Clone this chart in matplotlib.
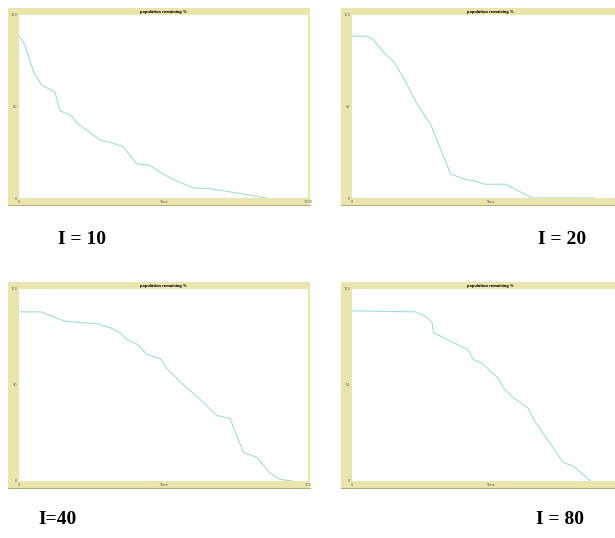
import matplotlib.pyplot as plt
import numpy as np

# remaining % over time, one run per I value
t_10 = [0, 21, 50, 78, 124, 142, 182, 200, 280, 326, 360, 407, 453, 499, 545, 603, 660, 718, 787, 856]
v_10 = [88.8, 83.2, 69.2, 61.7, 57.9, 47.7, 44.9, 41.1, 31.8, 29.9, 28.0, 18.7, 17.8, 13.1, 9.3, 5.6, 5.0, 3.7, 1.9, 0]

t_20 = [0, 20, 30, 44, 62, 79, 94, 114, 128, 143, 163, 178, 192, 222, 262, 351]
v_20 = [88.4, 88.4, 86.9, 80.4, 73.8, 62.6, 51.4, 40.2, 27.1, 13.1, 10.3, 9.3, 7.5, 7.5, 0, 0]

t_40 = [0, 23, 33, 47, 64, 81, 95, 105, 112, 123, 133, 147, 153, 171, 188, 205, 219, 226, 233, 247, 260, 271, 284]
v_40 = [88.1, 88.1, 86.0, 83.3, 82.5, 81.9, 79.8, 77.2, 73.7, 71.1, 65.8, 63.7, 58.8, 50.0, 42.6, 34.2, 32.5, 23.7, 14.9, 12.3, 4.4, 0.9, 0]

t_80 = [0, 46, 53, 58, 59, 69, 84, 88, 94, 106, 110, 116, 128, 132, 143, 153, 160, 173]
v_80 = [88.6, 88.1, 86.0, 82.5, 77.2, 73.7, 68.4, 63.2, 61.4, 53.5, 48.2, 43.9, 37.7, 31.6, 20.2, 9.6, 7.9, 0]

runs = [(t_10, v_10, 1000), (t_20, v_20, 400), (t_40, v_40, 300), (t_80, v_80, 200)]
labels = ["I = 10", "I = 20", "I=40", "I = 80"]
title = "population remaining %"

W, H = 615, 538
frame_col = "#e9e5ad"
line_col = "#a3dcdd"

fig = plt.figure(figsize=(6.15, 5.38), dpi=100)


def px(x0, y0, x1, y1):
    # pixel box (top-left origin) -> figure fraction rect
    return [x0 / W, 1 - y1 / H, (x1 - x0) / W, (y1 - y0) / H]


frames = [(8, 8, 310, 205), (341, 8, 630, 205), (8, 282, 310, 488), (341, 282, 630, 488)]
label_pos = [(82, 240), (562, 240), (58, 520), (560, 520)]

for i, ((t, v, tmax), (fx0, fy0, fx1, fy1), lab, (lx, ly)) in enumerate(zip(runs, frames, labels, label_pos)):
    bg = fig.add_axes(px(fx0, fy0, fx1, fy1))
    bg.set_facecolor(frame_col)
    bg.set_xticks([])
    bg.set_yticks([])
    for s in bg.spines.values():
        s.set_visible(False)
    bg.spines["bottom"].set_visible(True)
    bg.spines["bottom"].set_color("#b8b07a")

    ax = fig.add_axes(px(fx0 + 11, fy0 + 7, fx1 - 2, fy1 - 7))
    ax.plot(t, v, color=line_col, lw=0.8)
    ax.set_xlim(0, tmax)
    ax.set_ylim(0, 100)
    for s in ax.spines.values():
        s.set_visible(False)
    ax.set_yticks([0, 50, 100])
    ax.set_yticklabels(["0", "50", "100"], fontsize=2.5)
    # right-hand panels run off the page, so their end tick is not shown
    if i % 2 == 0:
        ax.set_xticks([0, tmax / 2, tmax])
        ax.set_xticklabels(["0", "Time", str(tmax)], fontsize=2.5)
    else:
        ax.set_xticks([0, tmax / 2])
        ax.set_xticklabels(["0", "Time"], fontsize=2.5)
    ax.tick_params(length=0, pad=1.5, colors="#555555")
    ax.set_title(title, fontsize=2.5, fontweight="bold", pad=1.5)

    fig.text(lx / W, 1 - ly / H, lab, ha="center", va="center", fontsize=14,
             fontweight="bold", family="Liberation Serif")

fig.savefig("out.png", dpi=100)
